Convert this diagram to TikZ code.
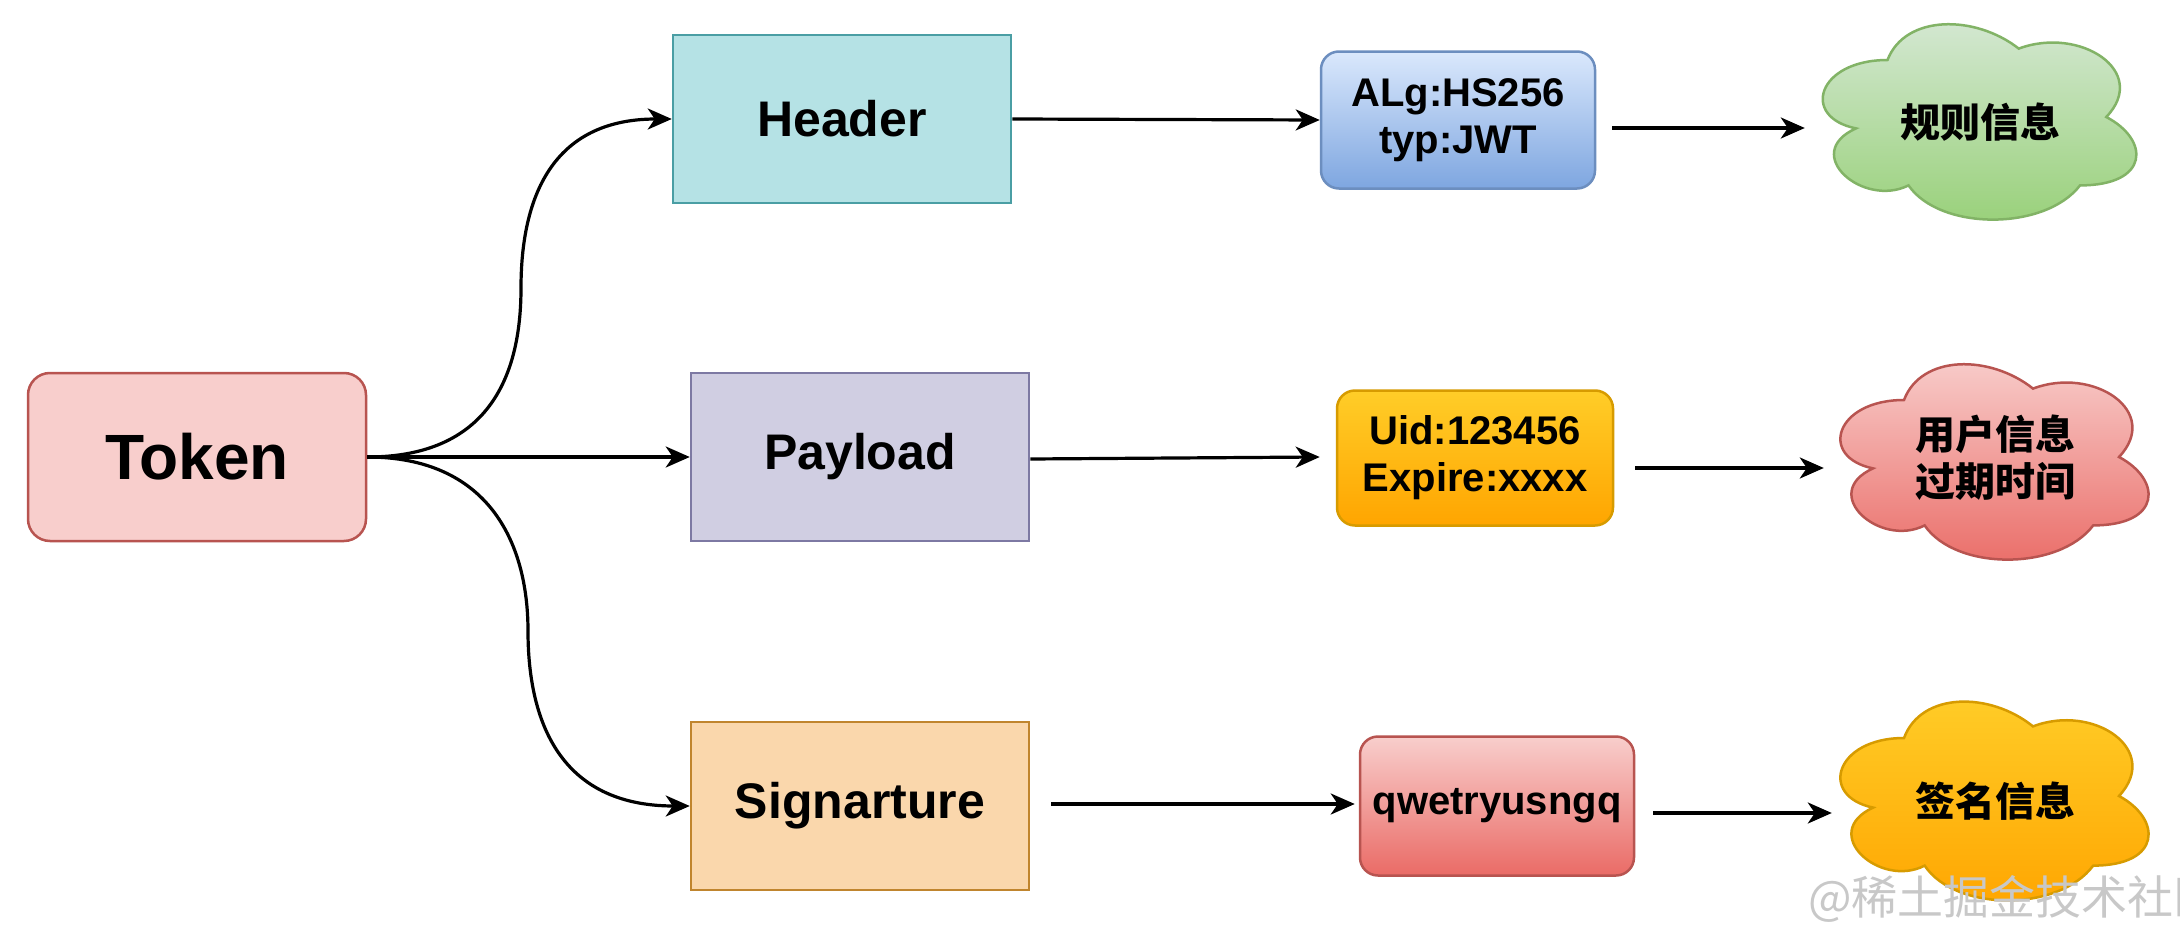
\documentclass[tikz,border=0pt]{standalone}
\usepackage{fontspec}
\setmainfont{Liberation Sans}
\newfontfamily\cjk{Noto Sans CJK SC}
\usetikzlibrary{arrows.meta}
\definecolor{tokfill}{HTML}{F8CECC}
\definecolor{tokdraw}{HTML}{B85450}
\definecolor{hdrfill}{HTML}{B5E2E5}
\definecolor{hdrdraw}{HTML}{4A9EA4}
\definecolor{payfill}{HTML}{D0CEE2}
\definecolor{paydraw}{HTML}{7D79A3}
\definecolor{sigfill}{HTML}{FAD7AC}
\definecolor{sigdraw}{HTML}{C0852E}
\definecolor{bluetop}{HTML}{DAE8FC}
\definecolor{bluebot}{HTML}{7EA6E0}
\definecolor{bluedraw}{HTML}{6C8EBF}
\definecolor{yeltop}{HTML}{FFCD28}
\definecolor{yelbot}{HTML}{FFA500}
\definecolor{yeldraw}{HTML}{D79B00}
\definecolor{redtop}{HTML}{F8CECC}
\definecolor{redbot}{HTML}{EA6B66}
\definecolor{reddraw}{HTML}{B85450}
\definecolor{grntop}{HTML}{D5E8D4}
\definecolor{grnbot}{HTML}{97D077}
\definecolor{grndraw}{HTML}{82B366}
\definecolor{wmark}{HTML}{C8C8C8}
\newcommand\drawcloud[5]{%
\begin{scope}[shift={(#1,#2)},xscale=#3,yscale=#4]
\draw[line width=2.5pt,#5] (0.25,0.25) .. controls (0.05,0.25) and (0,0.5) .. (0.16,0.55)
 .. controls (0,0.66) and (0.18,0.9) .. (0.31,0.8)
 .. controls (0.4,1) and (0.7,1) .. (0.8,0.8)
 .. controls (1,0.8) and (1,0.6) .. (0.875,0.5)
 .. controls (1,0.3) and (0.8,0.1) .. (0.625,0.2)
 .. controls (0.5,0.05) and (0.3,0.05) .. (0.25,0.25) -- cycle;
\end{scope}}
\begin{document}
\begin{tikzpicture}[x=1pt,y=-1pt,
  base/.style={font=\bfseries, align=center, inner sep=0pt, text=black},
  bigbox/.style={base, draw, line width=2.5pt, minimum width=338pt, minimum height=168pt,
     font=\bfseries\fontsize{50}{56}\selectfont},
  valbox/.style={base, draw, line width=2.5pt, rounded corners=18pt, minimum width=274pt, minimum height=137pt,
     font=\bfseries\fontsize{40}{47}\selectfont},
  cloudtext/.style={base, font=\cjk\bfseries\fontsize{40}{47}\selectfont},
  arr/.style={line width=3.2pt, -{Stealth[length=24pt,width=21pt,inset=7pt]}}]
\useasboundingbox[fill=white] (0,0) rectangle (2180,926);

% left column
\node[bigbox, rounded corners=22pt, fill=tokfill, draw=tokdraw, font=\bfseries\fontsize{64}{70}\selectfont] (tok) at (197,457) {Token};
\node[bigbox, fill=hdrfill, draw=hdrdraw] (hdr) at (842,119) {Header};
\node[bigbox, fill=payfill, draw=paydraw] (pay) at (860,457) {Payload};
\node[bigbox, fill=sigfill, draw=sigdraw] (sig) at (860,806) {Signarture};

% value boxes
\node[valbox, top color=bluetop, bottom color=bluebot, draw=bluedraw] (alg) at (1458,120) {ALg:HS256\\typ:JWT};
\node[valbox, top color=yeltop, bottom color=yelbot, draw=yeldraw, minimum width=276pt, minimum height=135pt] (uid) at (1475,458) {Uid:123456\\Expire:xxxx};
\node[valbox, top color=redtop, bottom color=redbot, draw=reddraw, minimum height=139pt] (qwe) at (1497,806) {qwetryusngq};

% clouds
\drawcloud{1800}{3}{350}{228}{top color=grntop, bottom color=grnbot, draw=grndraw}
\drawcloud{1818}{343}{344}{228}{top color=redtop, bottom color=redbot, draw=reddraw}
\drawcloud{1818}{680}{344}{232}{top color=yeltop, bottom color=yelbot, draw=yeldraw}
\node[cloudtext, minimum width=306pt, minimum height=195pt] (c1) at (1980,122) {规则信息};
\node[cloudtext, minimum width=306pt, minimum height=195pt] (c2) at (1995,458) {用户信息\\过期时间};
\node[cloudtext, minimum width=306pt, minimum height=199pt] (c3) at (1995,801) {签名信息};

% branch points
\coordinate (m1) at (521,288);
\coordinate (m2) at (528,631);

% connectors
\draw[arr] (tok.east) .. controls +(120,0) and +(0,90) .. (m1)
   .. controls +(0,-90) and +(-120,0) .. (hdr.west);
\draw[arr] (tok.east) -- (pay.west);
\draw[arr] (tok.east) .. controls +(120,0) and +(0,-90) .. (m2)
   .. controls +(0,90) and +(-130,0) .. (sig.west);

\draw[arr] (hdr.east) -- (alg.west);
\draw[arr] ([yshift=-2pt]pay.east) -- ([xshift=-16pt]pay.east -| uid.west);
\draw[arr, shorten <=21pt, shorten >=4pt] ([yshift=2pt]sig.east) -- ([yshift=2pt]sig.east -| qwe.west);

\draw[arr, shorten <=16pt, shorten >=22pt] ([yshift=-8pt]alg.east) -- ([yshift=-8pt]alg.east -| c1.west);
\draw[arr, shorten <=21pt, shorten >=18pt] ([yshift=-10pt]uid.east) -- ([yshift=-10pt]uid.east -| c2.west);
\draw[arr, shorten <=18pt, shorten >=10pt] ([yshift=-7pt]qwe.east) -- ([yshift=-7pt]qwe.east -| c3.west);

% watermark
\node[anchor=base west, inner sep=0pt, text=wmark, font=\cjk\fontsize{46}{50}\selectfont] (wm) at (1808,914) {@稀土掘金技术社区};
\end{tikzpicture}
\end{document}
